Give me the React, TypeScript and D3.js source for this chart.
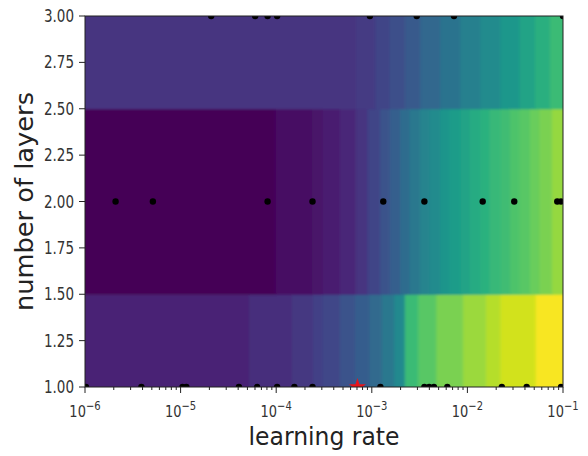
import React from "react";
import * as d3 from "d3";

// ---------- data ----------
// heatmap bands: number of layers -> y range, column edges (log10 lr) and viridis values
const band1Range = [1.0, 1.5];
const band1Edges = [-6.0, -4.28, -3.83, -3.61, -3.51, -3.33, -3.17, -3.02, -2.89, -2.76, -2.65, -2.51, -2.32, -2.04, -1.8, -1.65, -1.28, -1.0];
const band1Values = [0.1, 0.13, 0.16, 0.19, 0.21, 0.25, 0.29, 0.34, 0.4, 0.47, 0.68, 0.74, 0.8, 0.85, 0.89, 0.93, 0.99];

const band2Range = [1.5, 2.5];
const band2Edges = [-6.0, -4.0, -3.62, -3.51, -3.33, -3.16, -3.04, -2.91, -2.81, -2.7, -2.6, -2.49, -2.39, -2.28, -2.18, -2.07, -1.97, -1.86, -1.76, -1.65, -1.55, -1.45, -1.34, -1.24, -1.11, -1.0];
const band2Values = [0.01, 0.04, 0.06, 0.08, 0.11, 0.15, 0.2, 0.25, 0.3, 0.35, 0.4, 0.45, 0.48, 0.52, 0.55, 0.58, 0.61, 0.64, 0.67, 0.69, 0.72, 0.74, 0.77, 0.8, 0.84];

const band3Range = [2.5, 3.0];
const band3Edges = [-6.0, -3.16, -2.96, -2.81, -2.65, -2.49, -2.28, -2.07, -1.86, -1.65, -1.45, -1.29, -1.13, -1.0];
const band3Values = [0.15, 0.17, 0.2, 0.24, 0.28, 0.33, 0.38, 0.43, 0.48, 0.53, 0.58, 0.63, 0.68];

// sampled points (log10 learning rate)
const layer1Points = [-5.99, -5.41, -4.98, -4.94, -4.39, -4.2, -3.99, -3.81, -3.62, -2.91, -2.45, -2.4, -2.35, -2.21, -1.64, -1.38, -1.02];
const layer2Points = [-5.68, -5.29, -4.09, -3.62, -2.88, -2.45, -1.84, -1.51, -1.06, -1.02];
const layer3Points = [-4.68, -4.22, -4.09, -3.99, -3.02, -2.53, -2.14, -1.0];
const bestPoint = { logLr: -3.15, layers: 1 };

const yTicks = [1.0, 1.25, 1.5, 1.75, 2.0, 2.25, 2.5, 2.75, 3.0];
const xDecades = [-6, -5, -4, -3, -2, -1];

// ---------- layout ----------
const W = 588;
const H = 456;
const left = 85;
const right = 563;
const top = 16;
const bottom = 387;
const FONT = "DejaVu Sans, Verdana, sans-serif";
const TICK_STRETCH = 1.25;

export default function App() {
  const x = d3.scaleLog().domain([1e-6, 1e-1]).range([left, right]);
  const y = d3.scaleLinear().domain([1, 3]).range([bottom, top]);
  const color = d3.interpolateViridis;

  const bands = [
    { range: band1Range, edges: band1Edges, values: band1Values },
    { range: band2Range, edges: band2Edges, values: band2Values },
    { range: band3Range, edges: band3Edges, values: band3Values },
  ];

  const minorTicks: number[] = [];
  for (let d = -6; d < -1; d++) {
    for (let m = 2; m <= 9; m++) minorTicks.push(m * Math.pow(10, d));
  }

  const star = d3.symbol().type(d3.symbolStar).size(90)();

  const pts = [
    ...layer1Points.map((l) => ({ l, v: 1 })),
    ...layer2Points.map((l) => ({ l, v: 2 })),
    ...layer3Points.map((l) => ({ l, v: 3 })),
  ];

  return (
    <svg
      width={W}
      height={H}
      style={{ position: "absolute", left: 0, top: 0, background: "#fff" }}
    >
      <defs>
        <clipPath id="plotClip">
          <rect x={left} y={top} width={right - left} height={bottom - top} />
        </clipPath>
        <filter id="soft" x="-5%" y="-5%" width="110%" height="110%">
          <feGaussianBlur stdDeviation="1.6 0.9" />
        </filter>
      </defs>
      <g clipPath="url(#plotClip)">
        <g filter="url(#soft)">
          {bands.map((b, bi) =>
            b.values.map((v, i) => {
              let x0 = x(Math.pow(10, b.edges[i]));
              let x1 = x(Math.pow(10, b.edges[i + 1]));
              let y0 = y(b.range[1]);
              let y1 = y(b.range[0]);
              if (i === 0) x0 -= 12;
              if (i === b.values.length - 1) x1 += 12;
              if (bi === 0) y1 += 12;
              if (bi === bands.length - 1) y0 -= 12;
              return (
                <rect
                  key={`${bi}-${i}`}
                  x={x0 - 0.5}
                  y={y0 - 0.5}
                  width={x1 - x0 + 1}
                  height={y1 - y0 + 1}
                  fill={color(v)}
                />
              );
            })
          )}
        </g>
        {pts.map((p, i) => (
          <circle key={i} cx={x(Math.pow(10, p.l))} cy={y(p.v)} r={3.2} fill="#000" />
        ))}
        <path
          d={star || ""}
          transform={`translate(${x(Math.pow(10, bestPoint.logLr))},${y(bestPoint.layers)})`}
          fill="#e8141b"
        />
      </g>
      {/* frame */}
      <rect x={left} y={top} width={right - left} height={bottom - top} fill="none" stroke="#222" strokeWidth={1} />
      {/* y axis */}
      {yTicks.map((t) => (
        <g key={t} transform={`translate(0,${y(t)})`}>
          <line x1={left - 6} x2={left} stroke="#222" />
          <g transform={`translate(${left - 11},0) scale(1,${TICK_STRETCH})`}>
            <text dy="0.36em" textAnchor="end" fontFamily={FONT} fontSize={13.5} fill="#333">
              {t.toFixed(2)}
            </text>
          </g>
        </g>
      ))}
      {/* x axis */}
      {minorTicks.map((t, i) => (
        <line key={i} x1={x(t)} x2={x(t)} y1={bottom} y2={bottom + 3} stroke="#222" />
      ))}
      {xDecades.map((d) => (
        <g key={d} transform={`translate(${x(Math.pow(10, d))},0)`}>
          <line y1={bottom} y2={bottom + 6} stroke="#222" />
          <g transform={`translate(0,${bottom + 30}) scale(1,${TICK_STRETCH})`}>
            <text textAnchor="middle" fontFamily={FONT} fontSize={13} fill="#333">
              10
              <tspan dy={-5.5} fontSize={10}>
                {"\u2212" + Math.abs(d)}
              </tspan>
            </text>
          </g>
        </g>
      ))}
      <g transform={`translate(${(left + right) / 2},445) scale(1,1.08)`}>
        <text textAnchor="middle" fontFamily={FONT} fontSize={23.5} fill="#222">
          learning rate
        </text>
      </g>
      <g transform={`translate(33,${(top + bottom) / 2}) rotate(-90) scale(1.07,1)`}>
        <text textAnchor="middle" fontFamily={FONT} fontSize={24} fill="#222">
          number of layers
        </text>
      </g>
    </svg>
  );
}
